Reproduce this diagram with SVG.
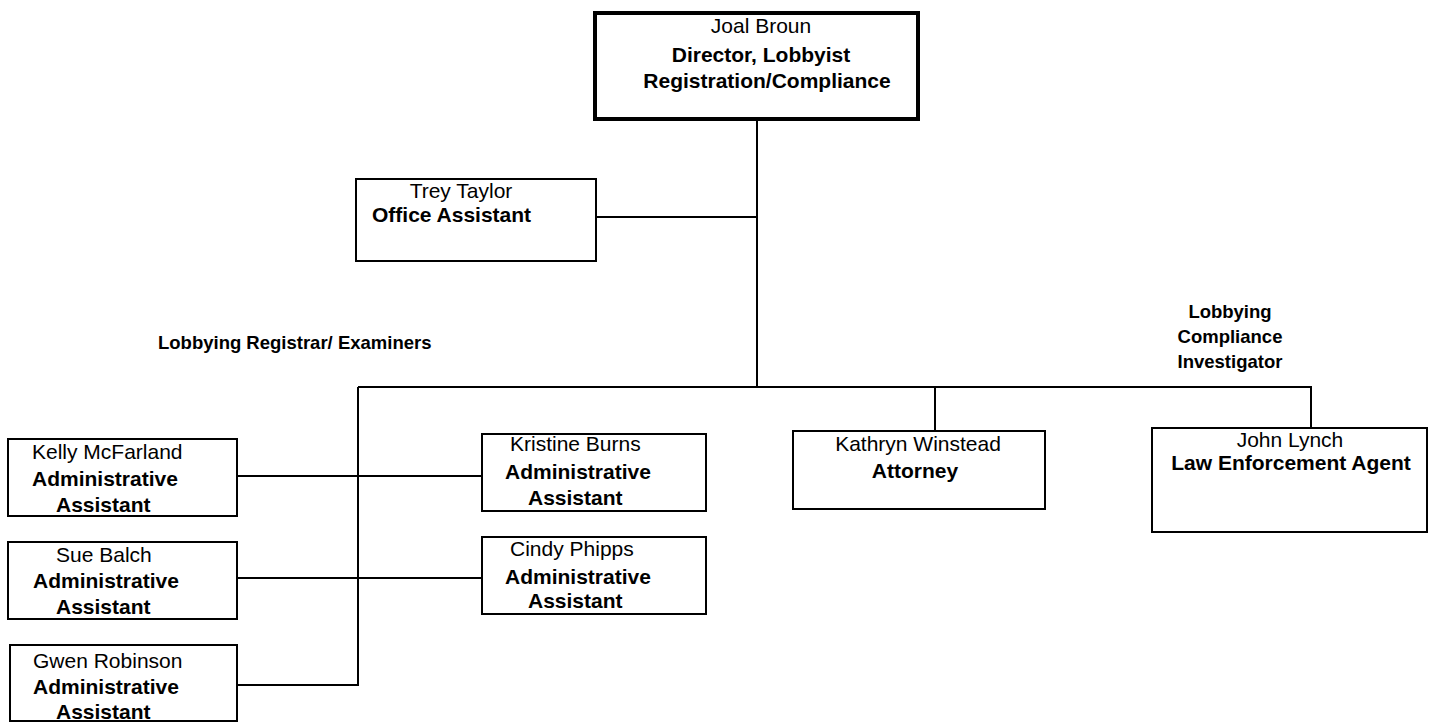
<svg xmlns="http://www.w3.org/2000/svg" width="1434" height="724" viewBox="0 0 1434 724">
<style>
.box{fill:#fff;stroke:#000;stroke-width:2}
.thick{fill:#fff;stroke:#000;stroke-width:4}
.ln{fill:none;stroke:#000;stroke-width:2}
text{font-family:"Liberation Sans",Arial,sans-serif;font-size:21px;fill:#000}
.b{font-weight:bold}
.c{text-anchor:middle}
.lbl{font-size:18.5px;font-weight:bold}
</style>
<rect width="1434" height="724" fill="#fff"/>
<g id="connectors">
<path class="ln" d="M757 120 V387"/>
<path class="ln" d="M596 217 H757"/>
<path class="ln" d="M358 387 H1311 V428"/>
<path class="ln" d="M935 387 V431"/>
<path class="ln" d="M358 387 V685 H237"/>
<path class="ln" d="M237 476 H481"/>
<path class="ln" d="M237 578 H482"/>
</g>
<g id="joal">
<rect class="thick" x="595" y="13" width="323" height="106"/>
<text class="c" x="761" y="33">Joal Broun</text>
<text class="c b" x="761" y="62">Director, Lobbyist</text>
<text class="c b" x="767" y="88">Registration/Compliance</text>
</g>
<g id="trey">
<rect class="box" x="356" y="179" width="240" height="82"/>
<text class="c" x="461" y="198">Trey Taylor</text>
<text class="b" x="372" y="222">Office Assistant</text>
</g>
<text class="lbl" x="158" y="349">Lobbying Registrar/ Examiners</text>
<g id="investigator-label">
<text class="lbl c" x="1230" y="318">Lobbying</text>
<text class="lbl c" x="1230" y="343">Compliance</text>
<text class="lbl c" x="1230" y="368">Investigator</text>
</g>
<g id="kelly">
<rect class="box" x="8" y="439" width="229" height="77"/>
<text x="32" y="459">Kelly McFarland</text>
<text class="b" x="32" y="486">Administrative</text>
<text class="b" x="56" y="512">Assistant</text>
</g>
<g id="sue">
<rect class="box" x="8" y="542" width="229" height="77"/>
<text x="56" y="562">Sue Balch</text>
<text class="b" x="33" y="588">Administrative</text>
<text class="b" x="56" y="614">Assistant</text>
</g>
<g id="gwen">
<rect class="box" x="10" y="645" width="227" height="76"/>
<text x="33" y="668">Gwen Robinson</text>
<text class="b" x="33" y="694">Administrative</text>
<text class="b" x="56" y="719">Assistant</text>
</g>
<g id="kristine">
<rect class="box" x="482" y="434" width="224" height="77"/>
<text x="510" y="451">Kristine Burns</text>
<text class="b" x="505" y="479">Administrative</text>
<text class="b" x="528" y="505">Assistant</text>
</g>
<g id="cindy">
<rect class="box" x="482" y="537" width="224" height="77"/>
<text x="510" y="556">Cindy Phipps</text>
<text class="b" x="505" y="584">Administrative</text>
<text class="b" x="528" y="608">Assistant</text>
</g>
<g id="kathryn">
<rect class="box" x="793" y="431" width="252" height="78"/>
<text class="c" x="918" y="451">Kathryn Winstead</text>
<text class="c b" x="915" y="478">Attorney</text>
</g>
<g id="john">
<rect class="box" x="1152" y="428" width="275" height="104"/>
<text class="c" x="1290" y="447">John Lynch</text>
<text class="c b" x="1291" y="470">Law Enforcement Agent</text>
</g>
</svg>
